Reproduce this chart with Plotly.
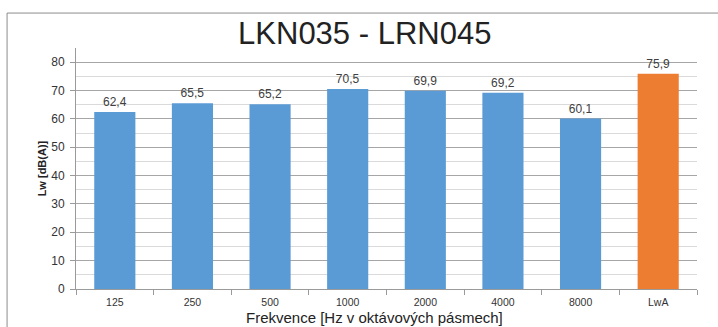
import plotly.graph_objects as go

# Octave-band sound power levels and the total A-weighted level
bands = ["125", "250", "500", "1000", "2000", "4000", "8000", "LwA"]
levels = [62.4, 65.5, 65.2, 70.5, 69.9, 69.2, 60.1, 75.9]
bar_colors = ["#5B9BD5"] * 7 + ["#ED7D31"]
y_ticks = [0, 10, 20, 30, 40, 50, 60, 70, 80]

labels = [f"{v:.1f}".replace(".", ",") for v in levels]

fig = go.Figure(
    go.Bar(
        x=bands,
        y=levels,
        marker=dict(color=bar_colors, line=dict(width=0)),
        text=labels,
        textposition="outside",
        textfont=dict(family="Liberation Sans, Arial, sans-serif", size=12, color="#404040"),
        cliponaxis=False,
    )
)

fig.update_layout(
    width=718,
    height=327,
    margin=dict(l=76, r=21, t=48, b=38),
    paper_bgcolor="white",
    plot_bgcolor="white",
    showlegend=False,
    bargap=0.47,
    title=dict(
        text="LKN035 - LRN045",
        x=0.508,
        xanchor="center",
        y=0.9,
        yanchor="middle",
        font=dict(family="Liberation Sans Narrow, Arial Narrow, sans-serif", size=31, color="#222222"),
    ),
    xaxis=dict(
        type="category",
        automargin=False,
        showline=True,
        linecolor="#9A9A9A",
        linewidth=1,
        ticks="outside",
        tickson="boundaries",
        ticklen=5,
        tickcolor="#9A9A9A",
        ticklabelstandoff=3,
        tickfont=dict(family="Liberation Sans, Arial, sans-serif", size=10.5, color="#333333"),
    ),
    yaxis=dict(
        range=[0, 85],
        automargin=False,
        tickvals=y_ticks,
        showline=True,
        linecolor="#9A9A9A",
        linewidth=1,
        ticks="outside",
        ticklen=5,
        tickcolor="#9A9A9A",
        ticklabelstandoff=3,
        showgrid=True,
        gridcolor="#A6A6A6",
        gridwidth=1,
        zeroline=False,
        minor=dict(dtick=5, tick0=0, showgrid=True, gridcolor="#DADADA", gridwidth=1, ticks=""),
        tickfont=dict(family="Liberation Sans, Arial, sans-serif", size=12, color="#333333"),
    ),
    annotations=[
        dict(
            text="Frekvence [Hz v oktávových pásmech]",
            xref="paper",
            yref="paper",
            x=0.48,
            y=-0.118,
            xanchor="center",
            yanchor="middle",
            showarrow=False,
            font=dict(family="Liberation Sans Narrow, Arial Narrow, sans-serif", size=15, color="#222222"),
        ),
        dict(
            text="<b>Lw [dB(A)]</b>",
            xref="paper",
            yref="paper",
            x=-0.055,
            y=0.5,
            xanchor="center",
            yanchor="middle",
            textangle=-90,
            showarrow=False,
            font=dict(family="Liberation Sans, Arial, sans-serif", size=11, color="#222222"),
        ),
    ],
    shapes=[
        # outer chart frame
        dict(
            type="rect",
            xref="paper",
            yref="paper",
            x0=-0.111,
            x1=1.04,
            y0=-0.2,
            y1=1.145,
            line=dict(color="#8C8C8C", width=1),
            fillcolor="rgba(0,0,0,0)",
            layer="below",
        ),
    ],
)

fig.write_html("out.html")
